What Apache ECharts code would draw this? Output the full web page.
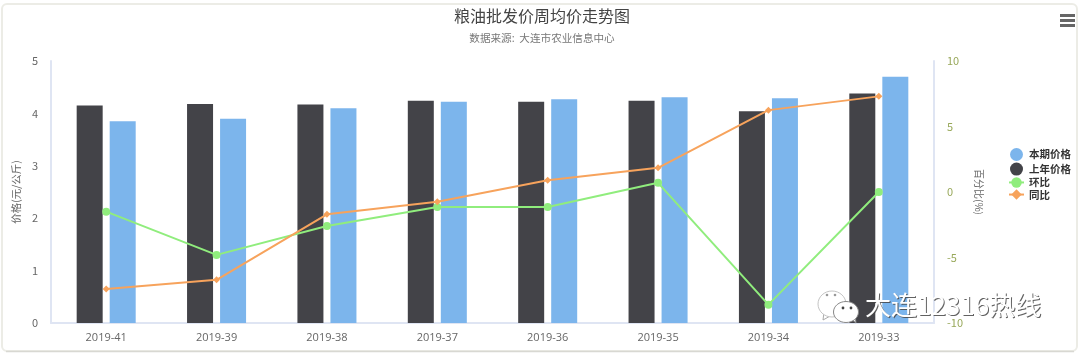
<!DOCTYPE html>
<html><head><meta charset="utf-8">
<style>html,body{margin:0;padding:0;background:#fff}#c{width:1080px;height:354px}</style>
<script src="https://cdn.jsdelivr.net/npm/echarts@6/dist/echarts.min.js"></script></head>
<body><div id="c"></div>
<script>
const categories=['2019-41','2019-39','2019-38','2019-37','2019-36','2019-35','2019-34','2019-33'];
const currentPrice=[3.85,3.9,4.1,4.22,4.27,4.31,4.29,4.7];
const lastYearPrice=[4.15,4.18,4.17,4.24,4.22,4.24,4.04,4.38];
const momChange=[-1.5,-4.8,-2.6,-1.15,-1.15,0.7,-8.6,0];
const yoyChange=[-7.4,-6.7,-1.7,-0.75,0.9,1.85,6.25,7.3];
const FONT='"Noto Sans CJK SC","Open Sans",sans-serif';
const chart=echarts.init(document.getElementById('c'),null,{renderer:'canvas'});
const markStyle={x:865,y:292,text:'大连12316热线',fontSize:26,fontFamily:FONT};
chart.setOption({
 animation:false,
 textStyle:{fontFamily:FONT},
 grid:{left:51,right:146,top:61,bottom:31},
 title:[
  {text:'粮油批发价周均价走势图',left:537,textAlign:'center',top:3,
   textStyle:{fontSize:16,fontWeight:'normal',color:'#444',fontFamily:FONT}},
  {text:'数据来源:  大连市农业信息中心',left:537,textAlign:'center',top:28,
   textStyle:{fontSize:10.6,fontWeight:'normal',color:'#777',fontFamily:FONT}}
 ],
 legend:{orient:'vertical',left:1003,top:143,itemGap:1.6,itemWidth:15,itemHeight:13,
  textStyle:{fontSize:10.5,fontWeight:'bold',color:'#333',fontFamily:FONT},
  data:[{name:'本期价格',icon:'circle'},{name:'上年价格',icon:'circle'},{name:'环比'},{name:'同比'}]},
 xAxis:{type:'category',data:categories,
  axisLine:{lineStyle:{color:'#dfe5f3',width:2}},axisTick:{show:false},
  axisLabel:{color:'#666',fontSize:11,margin:9,fontFamily:'"Open Sans",sans-serif'}},
 yAxis:[
  {type:'value',min:0,max:5,interval:1,name:'价格(元/公斤)',nameLocation:'middle',nameGap:29,nameRotate:90,
   nameTextStyle:{color:'#666',fontSize:10.5},
   axisLine:{show:true,lineStyle:{color:'#dfe5f3',width:2}},axisTick:{show:false},splitLine:{show:false},
   axisLabel:{color:'#666',fontSize:11,margin:13}},
  {type:'value',min:-10,max:10,interval:5,name:'百分比(%)',nameLocation:'middle',nameGap:38,nameRotate:-90,
   nameTextStyle:{color:'#666',fontSize:10},
   axisLine:{show:true,lineStyle:{color:'#dfe5f3',width:2}},axisTick:{show:false},splitLine:{show:false},
   axisLabel:{color:'#98a85a',fontSize:11,margin:13}}
 ],
 series:[
  {name:'上年价格',type:'bar',data:lastYearPrice,barWidth:26,barGap:'27%',itemStyle:{color:'#434348'},z:2},
  {name:'本期价格',type:'bar',data:currentPrice,barWidth:26,itemStyle:{color:'#7cb5ec'},z:2},
  {name:'环比',type:'line',yAxisIndex:1,data:momChange,symbol:'circle',symbolSize:8,lineStyle:{color:'#90ed7d',width:2},itemStyle:{color:'#90ed7d'},z:3},
  {name:'同比',type:'line',yAxisIndex:1,data:yoyChange,symbol:'diamond',symbolSize:7,lineStyle:{color:'#f7a35c',width:2},itemStyle:{color:'#f7a35c'},z:4}
 ],
 graphic:[
  {type:'rect',shape:{x:2,y:4,width:1075,height:347,r:5},silent:true,z:-1,
   style:{fill:'#fff',stroke:'#ecece6',lineWidth:2}},
  {type:'line',shape:{x1:6,y1:351.5,x2:1074,y2:351.5},silent:true,z:-1,style:{stroke:'#d8d8d2',lineWidth:1.5}},
  {type:'rect',z:20,silent:true,shape:{x:1060,y:14,width:15,height:3},style:{fill:'#666'}},
  {type:'rect',z:20,silent:true,shape:{x:1060,y:19,width:15,height:3},style:{fill:'#666'}},
  {type:'rect',z:20,silent:true,shape:{x:1060,y:24,width:15,height:3},style:{fill:'#666'}},
  {type:'polygon',z:30,silent:true,shape:{points:[[824,312],[823,320],[832,315]]},style:{fill:'#fff',stroke:'#aaa',lineWidth:1}},
  {type:'ellipse',z:30,silent:true,shape:{cx:832,cy:304,rx:14,ry:13},style:{fill:'#fff',stroke:'#c4c4c4',lineWidth:1}},
  {type:'circle',z:31,silent:true,shape:{cx:827,cy:295,r:1.3},style:{fill:'#999'}},
  {type:'circle',z:31,silent:true,shape:{cx:835,cy:295,r:1.3},style:{fill:'#999'}},
  {type:'polygon',z:31,silent:true,shape:{points:[[850,318],[856,323],[855,314]]},style:{fill:'#fff',stroke:'#888',lineWidth:1}},
  {type:'ellipse',z:32,silent:true,shape:{cx:846,cy:312,rx:12.5,ry:10.5},style:{fill:'#fff',stroke:'#888',lineWidth:1}},
  {type:'circle',z:33,silent:true,shape:{cx:843,cy:308,r:1.4},style:{fill:'#444'}},
  {type:'circle',z:33,silent:true,shape:{cx:851,cy:308,r:1.4},style:{fill:'#444'}},
  {type:'text',z:34,silent:true,x:1,y:1,style:Object.assign({},markStyle,{fill:'rgba(70,70,70,0.85)'})},
  {type:'text',z:35,silent:true,style:Object.assign({},markStyle,{fill:'#fff'})}
 ]
});
</script></body></html>
